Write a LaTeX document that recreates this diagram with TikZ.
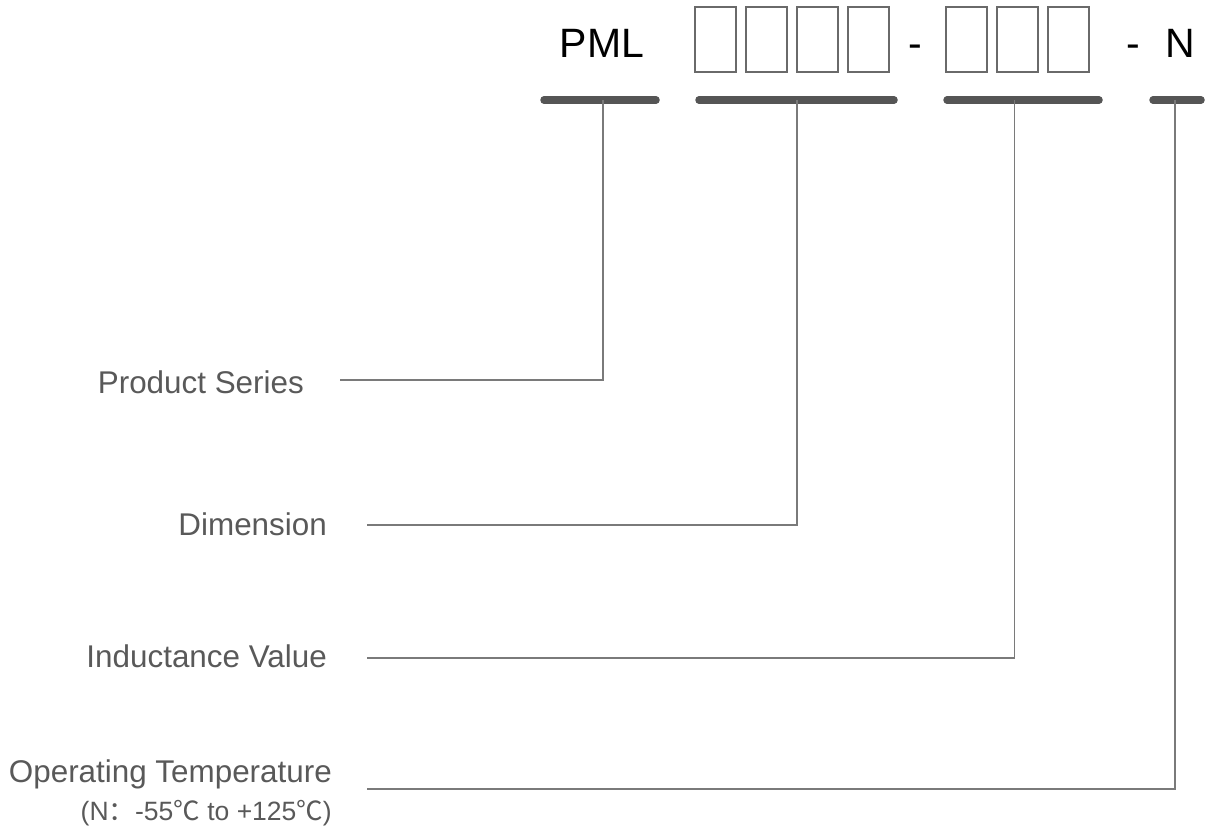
\documentclass[tikz,border=0pt]{standalone}
\usepackage{fontspec}
\setmainfont{Liberation Sans}
\newfontfamily\cjk{Noto Sans CJK SC}
\definecolor{labelgray}{HTML}{595959}
\definecolor{boxgray}{HTML}{6A6A6A}
\definecolor{bargray}{HTML}{555555}
\definecolor{leadgray}{HTML}{7A7A7A}
\begin{document}
\begin{tikzpicture}[x=1pt,y=-1pt,
  codebox/.style={draw=boxgray, line width=2pt, minimum width=41pt, minimum height=65pt, inner sep=0pt},
  headtext/.style={font=\fontsize{41}{48}\selectfont, text=black, inner sep=0pt, anchor=base},
  bar/.style={draw=bargray, line width=7.5pt, line cap=round},
  leader/.style={draw=leadgray, line width=1.6pt},
  label/.style={font=\fontsize{31.4}{36}\selectfont, text=labelgray, inner sep=0pt, anchor=base east},
  note/.style={font=\fontsize{26.5}{30}\selectfont, text=labelgray, inner sep=0pt, anchor=base east}]
\useasboundingbox (0,0) rectangle (1207,831);

% part number header
\node[headtext] (pml) at (602,57) {PML};
\node[codebox] (d1) at (715.2,39) {};
\node[codebox] (d2) at (766.3,39) {};
\node[codebox] (d3) at (817.5,39) {};
\node[codebox] (d4) at (868.7,39) {};
\node[headtext] (dash1) at (915,57) {-};
\node[codebox] (v1) at (966.7,39) {};
\node[codebox] (v2) at (1017.3,39) {};
\node[codebox] (v3) at (1068.3,39) {};
\node[headtext] (dash2) at (1133,57) {-};
\node[headtext] (tn) at (1180,57) {N};

% underline bars
\coordinate (s1l) at (544,100); \coordinate (s1r) at (656,100);
\coordinate (s2l) at (699,100); \coordinate (s2r) at (894,100);
\coordinate (s3l) at (947,100); \coordinate (s3r) at (1099,100);
\coordinate (s4l) at (1153,100); \coordinate (s4r) at (1201,100);
\draw[bar] (s1l) -- (s1r);
\draw[bar] (s2l) -- (s2r);
\draw[bar] (s3l) -- (s3r);
\draw[bar] (s4l) -- (s4r);

% leader taps on the bars
\coordinate (t1) at (603,100);
\coordinate (t2) at (797,100);
\coordinate (t3) at (1014.5,100);
\coordinate (t4) at (1175,100);

% field labels
\node[label] (series) at (304,393) {Product Series};
\node[label] (dim) at (327,535) {Dimension};
\node[label] (ind) at (327,667) {Inductance Value};
\node[label] (temp) at (332,782) {Operating Temperature};
\node[note] (range) at (332,820) {(N{\cjk ：}-55{\cjk ℃} to +125{\cjk ℃})};

% leader start points
\coordinate (e1) at (340,380);
\coordinate (e2) at (367,525);
\coordinate (e3) at (367,658);
\coordinate (e4) at (367,789);

\draw[leader] (e1) -| (t1);
\draw[leader] (e2) -| (t2);
\draw[leader] (e3) -| (t3);
\draw[leader] (e4) -| (t4);
\end{tikzpicture}
\end{document}
